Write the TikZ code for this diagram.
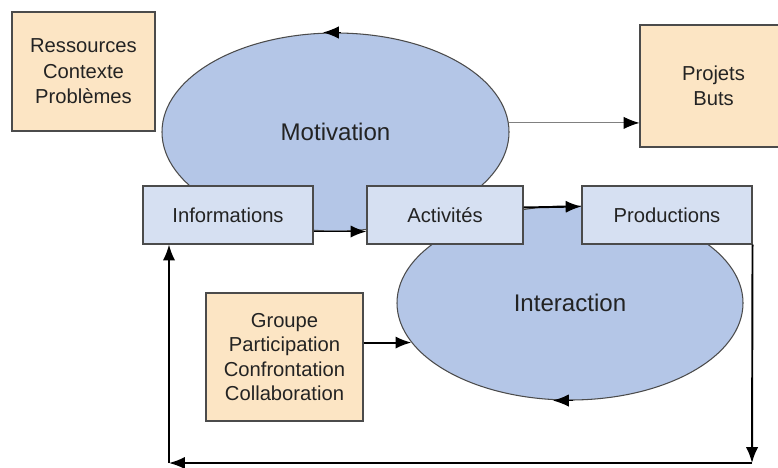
\documentclass[tikz,border=0pt]{standalone}
\usepackage{fontspec}
\setmainfont{Liberation Sans}
\usepackage{tikz}
\usetikzlibrary{shapes.geometric, arrows.meta}
\definecolor{peach}{RGB}{252,229,196}
\definecolor{paleblue}{RGB}{214,224,242}
\definecolor{midblue}{RGB}{180,198,231}
\definecolor{edgegray}{RGB}{75,75,75}
\definecolor{txtgray}{RGB}{35,35,35}
\tikzstyle{arrow} = [line width=1.1pt, -{Latex[length=9pt,width=7pt]}]
\tikzstyle{thinarrow} = [line width=0.6pt, draw=gray, -{Latex[length=9pt,width=7pt,color=black]}]
\tikzstyle{cycletip} = [line width=0.6pt, -{Latex[length=9pt,width=7pt]}]

\begin{document}
\begin{tikzpicture}[font=\fontsize{11.5}{14.5}\selectfont, text=txtgray]
		\useasboundingbox (0,0) rectangle (15.56,9.34);
		\coordinate (ressources) at (1.67,7.91);
		\coordinate (projets) at (14.27,7.62);
		\coordinate (motivation) at (6.71,6.70);
		\coordinate (interaction) at (11.40,3.28);
		\coordinate (informations) at (4.56,5.04);
		\coordinate (activites) at (8.90,5.04);
		\coordinate (productions) at (13.34,5.04);
		\coordinate (groupe) at (5.69,2.20);
		\coordinate (loopR) at (15.04,0.08);
		\coordinate (loopL) at (3.38,0.08);
		% Cycles
		\begin{scope}[every node/.style={draw=edgegray, line width=0.6pt, fill=midblue, ellipse, inner sep=0pt, font=\fontsize{13.7}{16}\selectfont}]
		\node[name=motivation, minimum width=6.94cm, minimum height=3.96cm] at (motivation) {Motivation};
		\node[name=interaction, minimum width=6.92cm, minimum height=3.88cm] at (interaction) {Interaction};
		\end{scope}
		% Context boxes
		\begin{scope}[every node/.style={draw=edgegray, line width=0.6pt, fill=peach, rectangle, align=center, inner sep=0pt}]
		\node[name=ressources, minimum width=2.86cm, minimum height=2.38cm] at (ressources) {Ressources\\Contexte\\Problèmes};
		\node[name=projets, minimum width=2.94cm, minimum height=2.44cm] at (projets) {Projets\\Buts};
		\node[name=groupe, minimum width=3.14cm, minimum height=2.56cm, font=\fontsize{11.5}{13.7}\selectfont] at (groupe) {Groupe\\Participation\\Confrontation\\Collaboration};
		\end{scope}
		% Steps
		\begin{scope}[every node/.style={draw=edgegray, line width=0.6pt, fill=paleblue, rectangle, minimum height=1.16cm, inner sep=0pt}]
		\node[name=informations, minimum width=3.4cm] at (informations) {Informations};
		\node[name=activites, minimum width=3.12cm] at (activites) {Activités};
		\node[name=productions, minimum width=3.4cm] at (productions) {Productions};
		\end{scope}
		% Arrows
		\draw [cycletip] ([xshift=0.1cm]motivation.north)--([xshift=-0.25cm]motivation.north);
		\draw [cycletip] ([xshift=0.05cm]interaction.south)--([xshift=-0.34cm]interaction.south);
		\draw [arrow] (informations.east |- motivation.south)--(activites.west |- motivation.south);
		\draw [arrow] ([yshift=-0.04cm]activites.east |- interaction.north)--([yshift=-0.02cm]productions.west |- interaction.north);
		\draw [thinarrow] (motivation.3)--(projets.west |- motivation.3);
		\draw [arrow] (groupe.east |- interaction.194)--(interaction.194);
		% Feedback loop
		\draw [arrow] (productions.south east)--(loopR);
		\draw [arrow] (loopR)--(loopL);
		\draw [arrow] (loopL)--(loopL |- informations.south);
\end{tikzpicture}
\end{document}
